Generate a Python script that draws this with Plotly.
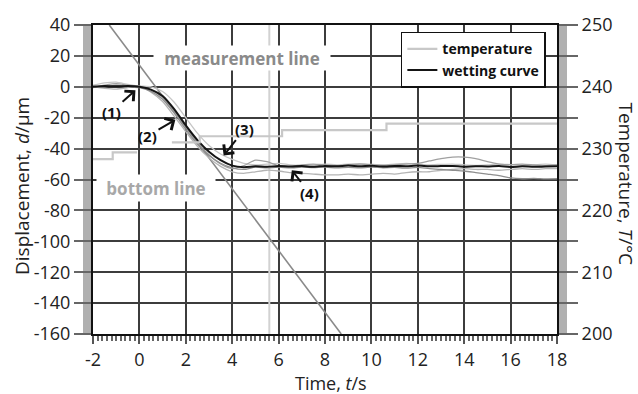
import plotly.graph_objects as go

# ---------------- data ----------------
time = [-2, -1.5, -1, -0.5, 0, 0.5, 1, 1.5, 2, 2.5, 3, 3.5, 4, 4.5, 5, 5.5, 6, 6.5, 7, 7.5,
        8, 8.5, 9, 9.5, 10, 10.5, 11, 11.5, 12, 12.5, 13, 13.5, 14, 14.5, 15, 15.5, 16, 16.5,
        17, 17.5, 18]

wet_mean = [0, 0.5, 0.3, 0.5, 0, -1.8, -6, -14.5, -25, -34.5, -42, -47.5, -51, -52, -51.5,
            -51.8, -51.2, -51.6, -51.3, -51.8, -51.2, -51.5, -51, -51.4, -51.1, -51.6, -51.2,
            -51.4, -51, -51.5, -51.3, -51.2, -51.7, -51.4, -51.6, -51.3, -51.9, -51.5, -51.8,
            -51.6, -51.5]

wet_run1 = [1, 2.5, 3, 1.5, 0.5, 0, -3, -10, -20, -30, -38, -43.5, -47, -49.5, -50.5, -50,
            -49.5, -50.5, -51, -50.5, -50, -50.5, -50, -49.8, -50.2, -50.5, -50, -49.6, -50,
            -50.5, -50.2, -50, -50.5, -50.8, -50.5, -50, -50.4, -50.8, -50.5, -50, -50.5]

wet_run2 = [0, -1, -1.5, -0.5, 0.5, -3.5, -9.5, -19, -29, -38.5, -46, -51.5, -55, -56, -55,
            -54, -54.5, -55.5, -56, -56.5, -57, -57, -56.5, -57, -56.5, -56, -56.5, -55.5, -55,
            -55, -54, -53.5, -53, -53.5, -53.5, -54, -53.5, -53, -53.5, -53, -53]

wet_run3 = [-0.5, 1, 2, 1, 0, -2, -7, -16, -26, -36, -44, -50, -53, -51, -47.5, -48.5, -51,
            -51.5, -50.5, -50, -50.5, -51, -50.5, -50, -50.5, -50.8, -50.5, -50, -49.5, -48,
            -46.5, -45.5, -45.5, -46.5, -48.5, -50, -50.5, -50, -50.5, -51, -50.5]

wet_run4 = [0.5, 0, 1, 0, -0.5, -3, -8, -17, -27.5, -37, -44.5, -49.5, -52.5, -53.5, -52,
            -52.5, -52, -52.5, -52, -52.3, -52, -52.5, -52.2, -52.5, -52, -52.4, -52.2, -52.6,
            -52.2, -53, -53.5, -54, -54.5, -55.5, -56.5, -57.5, -59, -59.5, -59.3, -59.6, -59.5]

temp_time = [-2, -1.15, -0.1, None, 1.4, 2.6, 6.15, 10.65, 18]
temp_val = [228.3, 229.4, 229.4, None, 231.0, 232.0, 233.0, 234.05, 234.05]

meas_time = [-1.3, 8.7]
meas_disp = [40, -160]

mark_time = [5.6, 5.6]
mark_disp = [-160, 40]

# tick labels (hyphen minus as in the reference; odd temperature ticks unlabeled)
x_labels = {"−2": "-2"}
y_labels = {"−20": "-20", "−40": "-40", "−60": "-60", "−80": "-80", "−100": "-100",
            "−120": "-120", "−140": "-140", "−160": "-160"}
y2_labels = {"205": "", "215": "", "225": "", "235": "", "245": ""}

arrow_labels = ["(1)", "(2)", "(3)", "(4)"]
arrow_tip_t = [-0.17, 1.55, 3.63, 6.57]
arrow_tip_d = [-2.3, -21.3, -44.5, -54]
arrow_lab_t = [-1.2, 0.35, 4.55, 7.35]
arrow_lab_d = [-16, -32, -27, -69]

FONT = "Open Sans"

fig = go.Figure()

# temperature (secondary axis)
fig.add_trace(go.Scatter(x=temp_time, y=temp_val, yaxis="y2", mode="lines",
                         line=dict(color="#c8c8c8", width=2.2, shape="hv"),
                         name="temperature", connectgaps=False))
# vertical marker
fig.add_trace(go.Scatter(x=mark_time, y=mark_disp, mode="lines",
                         line=dict(color="#d2d2d2", width=2), showlegend=False))
# measurement line (diagonal)
fig.add_trace(go.Scatter(x=meas_time, y=meas_disp, mode="lines",
                         line=dict(color="#8a8a8a", width=1.6), showlegend=False))
# individual wetting curves
for vals, col in [(wet_run1, "#c6c6c6"), (wet_run2, "#b4b4b4"),
                  (wet_run3, "#a0a0a0"), (wet_run4, "#8e8e8e")]:
    fig.add_trace(go.Scatter(x=time, y=vals, mode="lines",
                             line=dict(color=col, width=1.3, shape="spline", smoothing=0.6),
                             showlegend=False))
# mean wetting curve
fig.add_trace(go.Scatter(x=time, y=wet_mean, mode="lines",
                         line=dict(color="#151515", width=2, shape="spline", smoothing=0.6),
                         name="wetting curve"))

annotations = []
for lab, tt, td, lt, ld in zip(arrow_labels, arrow_tip_t, arrow_tip_d, arrow_lab_t, arrow_lab_d):
    annotations.append(dict(x=tt, y=td, ax=lt, ay=ld, xref="x", yref="y", axref="x", ayref="y",
                            text=lab, showarrow=True, arrowhead=4, arrowsize=1.3,
                            arrowwidth=2, arrowcolor="#111",
                            font=dict(family=FONT, size=15, color="#111", weight="bold")))

annotations.append(dict(x=4.43, y=18.65, xref="x", yref="y", text="measurement line",
                        showarrow=False, bgcolor="white", width=176, height=24, borderpad=0,
                        font=dict(family=FONT, size=17, color="#8a8a8a", weight="bold")))
annotations.append(dict(x=0.73, y=-65.6, xref="x", yref="y", text="bottom line",
                        showarrow=False, bgcolor="white", width=118, height=26, borderpad=0,
                        font=dict(family=FONT, size=17, color="#a8a8a8", weight="bold")))

annotations.append(dict(x=-0.153, y=0.479, xref="paper", yref="paper",
                        xanchor="center", yanchor="middle",
                        text="Displacement, <i>d</i>/µm", textangle=-90, showarrow=False,
                        font=dict(family=FONT, size=19, color="#222")))
annotations.append(dict(x=1.1487, y=0.484, xref="paper", yref="paper",
                        xanchor="center", yanchor="middle",
                        text="Temperature, <i>T</i>/°C", textangle=90, showarrow=False,
                        font=dict(family=FONT, size=19, color="#222")))
annotations.append(dict(x=0.514, y=-0.158, xref="paper", yref="paper",
                        xanchor="center", yanchor="middle",
                        text="Time, <i>t</i>/s", showarrow=False,
                        font=dict(family=FONT, size=18, color="#222")))

fig.update_layout(
    width=638, height=394,
    margin=dict(l=93, r=81, t=18, b=60),
    paper_bgcolor="white", plot_bgcolor="white",
    font=dict(family=FONT, size=18, color="#222"),
    showlegend=True,
    legend=dict(x=0.976, y=0.978, xanchor="right", yanchor="top",
                bgcolor="white", bordercolor="#111", borderwidth=1.5,
                font=dict(family=FONT, size=14, color="#111", weight="bold")),
    xaxis=dict(range=[-2, 18], tickmode="linear", tick0=-2, dtick=2, labelalias=x_labels,
               showgrid=True, gridcolor="#3c3c3c", gridwidth=1.5,
               showline=True, linecolor="#111", linewidth=2, mirror=True,
               ticks="outside", ticklen=8, tickcolor="#555", tickwidth=1.5, zeroline=False,
               minor=dict(dtick=0.2, ticklen=5, tickcolor="#666", ticks="outside",
                          showgrid=False)),
    yaxis=dict(range=[-160, 40], tickmode="linear", tick0=0, dtick=20, labelalias=y_labels,
               showgrid=True, gridcolor="#3c3c3c", gridwidth=1.5,
               showline=True, linecolor="#111", linewidth=2, mirror=True,
               ticks="outside", ticklen=17, tickcolor="#666", tickwidth=1.5, zeroline=False,
               minor=dict(dtick=1, ticklen=8, tickcolor="#b0b0b0", ticks="outside",
                          showgrid=False)),
    yaxis2=dict(range=[200, 250], overlaying="y", side="right", tickmode="linear", tick0=200,
                dtick=5, labelalias=y2_labels, showgrid=False, showline=True,
                linecolor="#111", linewidth=2, ticks="outside", ticklen=19, tickcolor="#666",
                tickwidth=1.5, zeroline=False,
                minor=dict(dtick=0.25, ticklen=8, tickcolor="#b0b0b0", ticks="outside",
                           showgrid=False)),
    annotations=annotations,
)

fig.write_html("out.html")
